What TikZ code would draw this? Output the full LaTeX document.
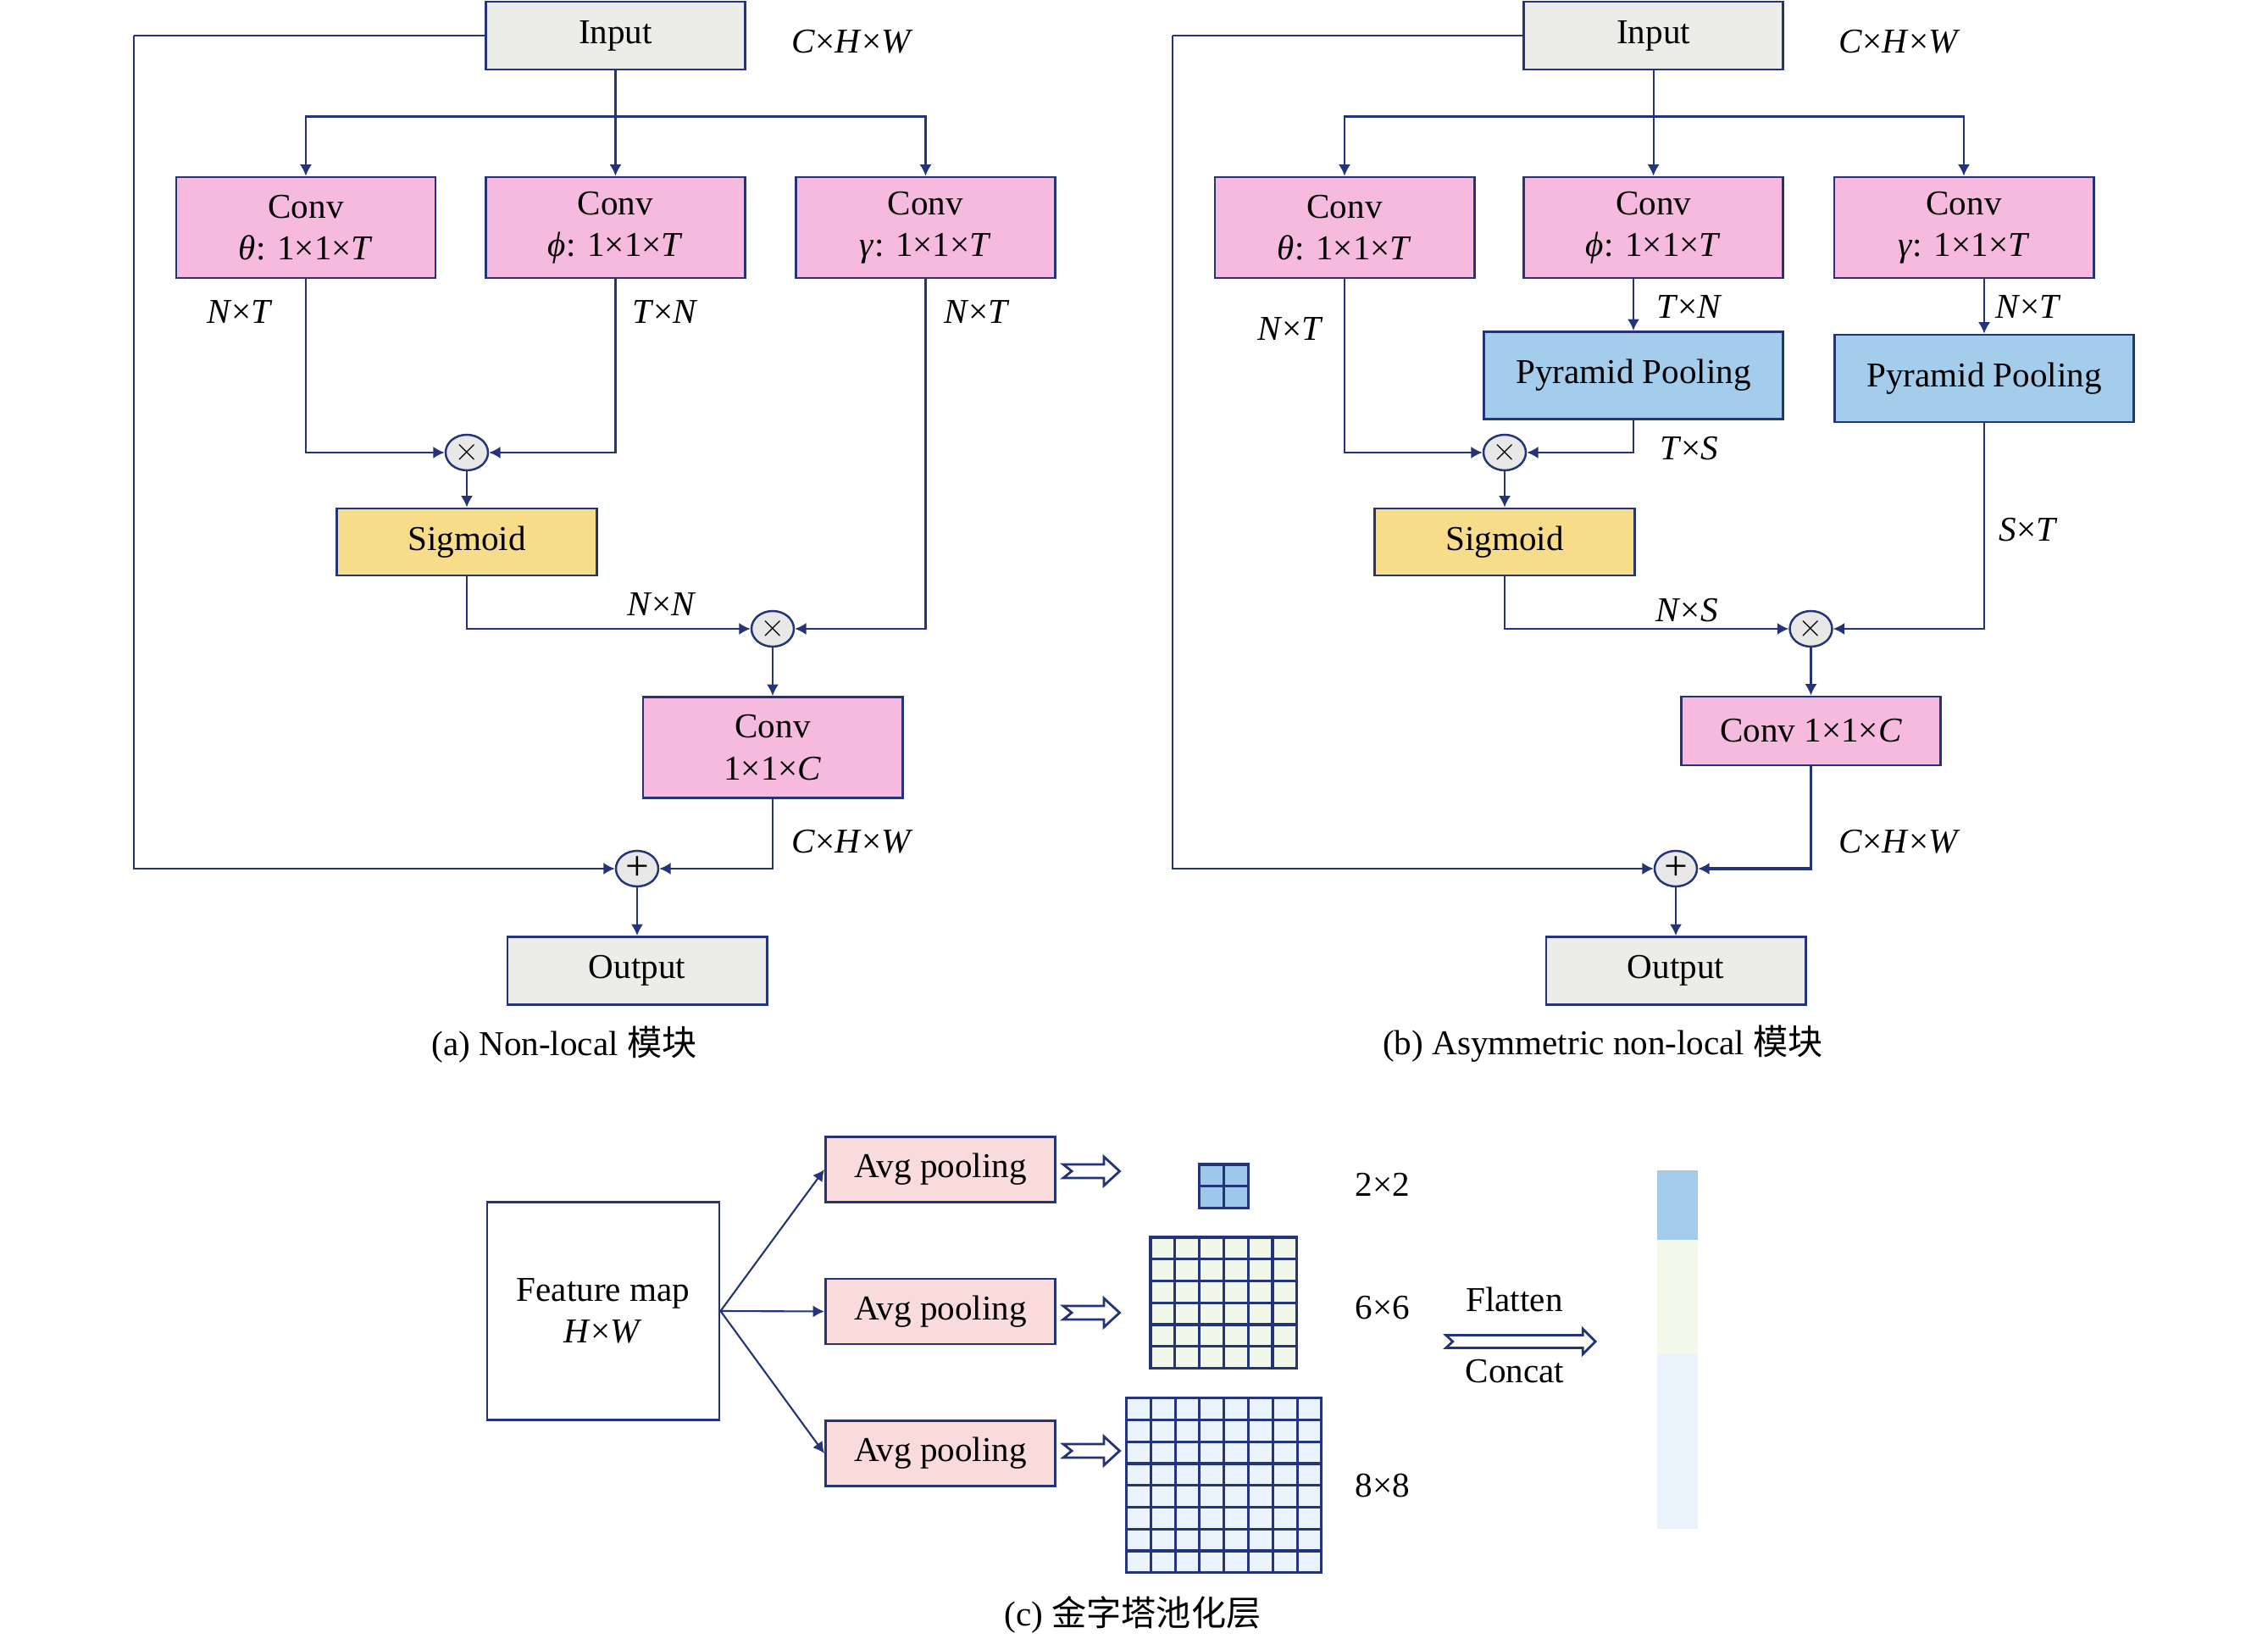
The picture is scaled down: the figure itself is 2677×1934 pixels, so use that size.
\documentclass[tikz,border=0pt]{standalone}
\usepackage{fontspec}
\setmainfont{Liberation Serif}
\newfontfamily\cjk{Noto Sans CJK SC}
\usetikzlibrary{arrows.meta,calc,shapes.geometric}
\definecolor{navy}{RGB}{35,52,120}
\definecolor{iogray}{RGB}{236,236,233}
\definecolor{convpink}{RGB}{245,186,221}
\definecolor{sigyellow}{RGB}{247,220,138}
\definecolor{ppblue}{RGB}{163,205,235}
\definecolor{avgpink}{RGB}{250,219,219}
\definecolor{opgray}{RGB}{232,232,232}
\definecolor{gblue}{RGB}{157,200,234}
\definecolor{ggreen}{RGB}{241,248,233}
\definecolor{glight}{RGB}{234,242,252}
\definecolor{barblue}{RGB}{163,204,234}
\definecolor{bargreen}{RGB}{242,249,234}
\definecolor{barlight}{RGB}{234,243,251}
\newcommand{\poolgrid}[4]{%
  \draw[gridln, fill=#4] (#1,#2) rectangle ++({#3*28.8},{#3*25.75});
  \pgfmathtruncatemacro{\gridm}{#3-1}
  \foreach \k in {1,...,\gridm}{
    \draw[gridln] ({#1+\k*28.8},#2) -- ++(0,{#3*25.75});
    \draw[gridln] (#1,{#2+\k*25.75}) -- ++({#3*28.8},0);
  }}
\begin{document}
\begin{tikzpicture}[x=0.01cm,y=-0.01cm,
  font=\fontsize{11.7}{14}\selectfont,
  box/.style={draw=navy, line width=0.8pt, align=center, inner sep=0pt, text=black},
  iobox/.style={box, fill=iogray, minimum width=3.06cm, minimum height=0.80cm},
  conv/.style={box, fill=convpink, minimum width=3.06cm, minimum height=1.19cm},
  sig/.style={box, fill=sigyellow, minimum width=3.07cm, minimum height=0.79cm},
  pp/.style={box, fill=ppblue, minimum width=3.53cm, minimum height=1.03cm},
  avg/.style={box, fill=avgpink, minimum width=2.71cm, minimum height=0.77cm},
  op/.style={ellipse, draw=navy, fill=opgray, line width=0.7pt, minimum width=0.5cm, minimum height=0.42cm, inner sep=0pt, font=\sffamily\fontsize{11}{11}\selectfont},
  ln/.style={draw=navy, line width=0.6pt},
  arr/.style={ln, -{Latex[length=3.8pt,width=4pt]}},
  gridln/.style={draw=navy, line width=0.9pt},
  lab/.style={inner sep=0pt},
  hollow/.pic={\draw[navy, line width=0.8pt, fill=white] (0,-8) -- (48,-8) -- (48,-17) -- (66.5,0) -- (48,17) -- (48,8) -- (0,8) -- (10,0) -- cycle;},
  hollowlong/.pic={\draw[navy, line width=0.8pt, fill=white] (0,-7.5) -- (161.5,-7.5) -- (161.5,-15) -- (176.5,0) -- (161.5,15) -- (161.5,7.5) -- (0,7.5) -- (8,0) -- cycle;}
]
\useasboundingbox[fill=white] (0,0) rectangle (2677,1934);

% ---------------- Panel (a) ----------------
\node[iobox] (inA) at (726.5,42) {Input};
\node[lab] (dimA1) at (1006,49) {\textit{C}×\textit{H}×\textit{W}};
\node[conv] (convTa) at (361,268.5) {Conv\\\textit{θ}: 1×1×\textit{T}};
\node[conv] (convPa) at (726.5,268.5) {Conv\\\textit{ϕ}: 1×1×\textit{T}};
\node[conv] (convGa) at (1092.5,268.5) {Conv\\\textit{γ}: 1×1×\textit{T}};
\node[lab] (labA1) at (283,368) {\textit{N}×\textit{T}};
\node[lab] (labA2) at (785,368) {\textit{T}×\textit{N}};
\node[lab] (labA3) at (1153,368) {\textit{N}×\textit{T}};
\node[op] (mul1a) at (551,534) {×};
\node[sig] (sigA) at (551,639.5) {Sigmoid};
\node[lab] (labA4) at (781,713) {\textit{N}×\textit{N}};
\node[op] (mul2a) at (912,742) {×};
\node[conv] (convCa) at (912,882) {Conv\\1×1×\textit{C}};
\node[lab] (dimA2) at (1006,993) {\textit{C}×\textit{H}×\textit{W}};
\node[op, font=\fontsize{14}{14}\selectfont] (plusA) at (752,1025) {+};
\node[iobox] (outA) at (752,1145.5) {Output};
\node[lab] (capA) at (666,1233) {(a) Non-local {\cjk 模块}};
\coordinate (brA) at (726.5,137.5);
\coordinate (loopA) at (158,42);

\draw[arr] (inA.south) -- (convPa.north);
\draw[arr] (brA) -| (convTa.north);
\draw[arr] (brA) -| (convGa.north);
\draw[arr] (convTa.south) |- (mul1a);
\draw[arr] (convPa.south) |- (mul1a);
\draw[arr] (mul1a) -- (sigA);
\draw[arr] (sigA.south) |- (mul2a);
\draw[arr] (convGa.south) |- (mul2a);
\draw[arr] (mul2a) -- (convCa);
\draw[arr] (convCa.south) |- (plusA);
\draw[ln] (inA.west) -- (loopA);
\draw[arr] (loopA) |- (plusA);
\draw[arr] (plusA) -- (outA);

% ---------------- Panel (b) ----------------
\node[iobox] (inB) at (1951.6,42) {Input};
\node[lab] (dimB1) at (2242,49) {\textit{C}×\textit{H}×\textit{W}};
\node[conv] (convTb) at (1587,268.5) {Conv\\\textit{θ}: 1×1×\textit{T}};
\node[conv] (convPb) at (1951.6,268.5) {Conv\\\textit{ϕ}: 1×1×\textit{T}};
\node[conv] (convGb) at (2318,268.5) {Conv\\\textit{γ}: 1×1×\textit{T}};
\node[pp] (ppB1) at (1928,443) {Pyramid Pooling};
\node[pp] (ppB2) at (2342,446.5) {Pyramid Pooling};
\node[lab] (labB1) at (1523,388) {\textit{N}×\textit{T}};
\node[lab] (labB2) at (1994,362) {\textit{T}×\textit{N}};
\node[lab] (labB3) at (2394,362) {\textit{N}×\textit{T}};
\node[lab] (labB4) at (1994,529) {\textit{T}×\textit{S}};
\node[lab] (labB5) at (2394,625) {\textit{S}×\textit{T}};
\node[op] (mul1b) at (1776,534) {×};
\node[sig] (sigB) at (1776,639.5) {Sigmoid};
\node[lab] (labB6) at (1991,720.5) {\textit{N}×\textit{S}};
\node[op] (mul2b) at (2137.5,742) {×};
\node[box, fill=convpink, minimum width=3.06cm, minimum height=0.81cm] (convCb) at (2137.5,862.5) {Conv 1×1×\textit{C}};
\node[lab] (dimB2) at (2242,993) {\textit{C}×\textit{H}×\textit{W}};
\node[op, font=\fontsize{14}{14}\selectfont] (plusB) at (1978,1025) {+};
\node[iobox] (outB) at (1978,1145.5) {Output};
\node[lab] (capB) at (1892,1232) {(b) Asymmetric non-local {\cjk 模块}};
\coordinate (brB) at (1951.6,137.5);
\coordinate (loopB) at (1384,42);

\draw[arr] (inB.south) -- (convPb.north);
\draw[arr] (brB) -| (convTb.north);
\draw[arr] (brB) -| (convGb.north);
\draw[arr] (ppB1.north |- convPb.south) -- (ppB1.north);
\draw[arr] (ppB2.north |- convGb.south) -- (ppB2.north);
\draw[arr] (convTb.south) |- (mul1b);
\draw[arr] (ppB1.south) |- (mul1b);
\draw[arr] (mul1b) -- (sigB);
\draw[arr] (sigB.south) |- (mul2b);
\draw[arr] (ppB2.south) |- (mul2b);
\draw[arr] (mul2b) -- (convCb);
\draw[arr, line width=0.9pt] (convCb.south) |- (plusB);
\draw[ln] (inB.west) -- (loopB);
\draw[arr] (loopB) |- (plusB);
\draw[arr] (plusB) -- (outB);

% ---------------- Panel (c) ----------------
\node[box, minimum width=2.74cm, minimum height=2.57cm] (fm) at (712,1547) {Feature map\\\textit{H}×\textit{W}};
\node[avg] (avg1) at (1110,1380) {Avg pooling};
\node[avg] (avg2) at (1110,1547.5) {Avg pooling};
\node[avg] (avg3) at (1110,1715) {Avg pooling};
\draw[arr] (fm.east) -- (avg1.west);
\draw[arr] (fm.east) -- (avg2.west);
\draw[arr] (fm.east) -- (avg3.west);
\pic at (1255,1382) {hollow};
\pic at (1255,1549) {hollow};
\pic at (1255,1712) {hollow};
\poolgrid{1415.8}{1374}{2}{gblue}
\poolgrid{1358}{1460}{6}{ggreen}
\poolgrid{1329.5}{1649.7}{8}{glight}
\node[lab] (s2) at (1632,1398) {2×2};
\node[lab] (s6) at (1632,1543) {6×6};
\node[lab] (s8) at (1632,1752.6) {8×8};
\node[lab] (flat) at (1787.5,1533) {Flatten};
\node[lab] (conc) at (1788,1617.6) {Concat};
\pic at (1706.7,1583) {hollowlong};
\fill[barblue] (1956,1380.7) rectangle (2004.3,1463);
\fill[bargreen] (1956,1463) rectangle (2004.3,1598);
\fill[barlight] (1956,1598) rectangle (2004.3,1804);
\node[lab] (capC) at (1337,1905) {(c) {\cjk 金字塔池化层}};
\end{tikzpicture}
\end{document}
